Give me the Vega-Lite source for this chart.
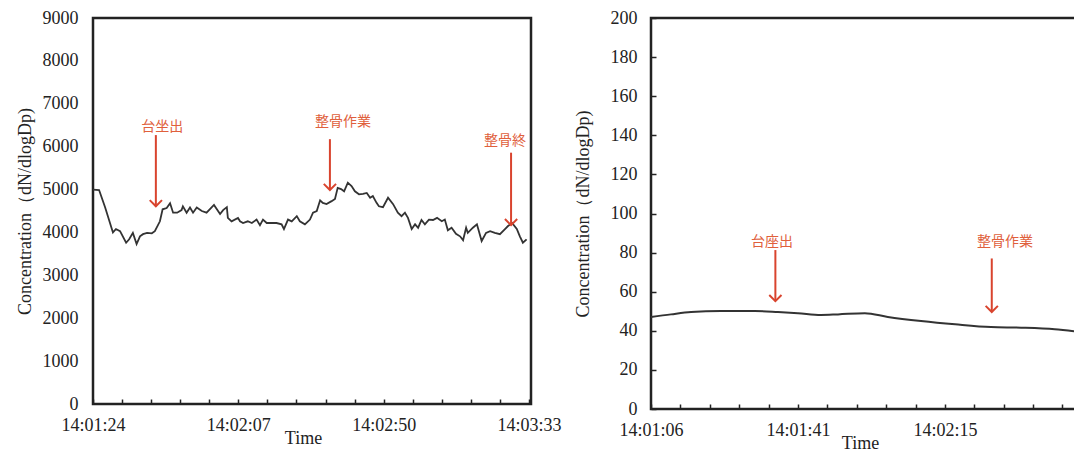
{
  "$schema": "https://vega.github.io/schema/vega-lite/v6.json",
  "background": "white",
  "padding": {"left": 14, "top": 7, "right": 0, "bottom": 0},
  "bounds": "flush",
  "spacing": 120,
  "datasets": {
    "left": [
      {"t": 84.0, "conc": 5000}, {"t": 85.8, "conc": 4990}, {"t": 87.6, "conc": 4580}, {"t": 89.9, "conc": 4000},
      {"t": 90.8, "conc": 4080}, {"t": 92.0, "conc": 4030}, {"t": 93.8, "conc": 3760}, {"t": 94.7, "conc": 3840},
      {"t": 95.8, "conc": 3990}, {"t": 96.9, "conc": 3730}, {"t": 97.9, "conc": 3910}, {"t": 98.8, "conc": 3960},
      {"t": 100.0, "conc": 3990}, {"t": 101.4, "conc": 3980}, {"t": 102.3, "conc": 4030}, {"t": 103.8, "conc": 4260},
      {"t": 104.6, "conc": 4540}, {"t": 105.8, "conc": 4570}, {"t": 106.8, "conc": 4680}, {"t": 107.7, "conc": 4460},
      {"t": 108.9, "conc": 4460}, {"t": 110.2, "conc": 4520}, {"t": 110.6, "conc": 4610}, {"t": 111.7, "conc": 4460},
      {"t": 112.7, "conc": 4580}, {"t": 113.6, "conc": 4460}, {"t": 114.7, "conc": 4580}, {"t": 116.2, "conc": 4500},
      {"t": 117.6, "conc": 4460}, {"t": 119.8, "conc": 4640}, {"t": 121.6, "conc": 4430}, {"t": 122.5, "conc": 4520},
      {"t": 123.6, "conc": 4590}, {"t": 123.9, "conc": 4340}, {"t": 125.0, "conc": 4260}, {"t": 126.9, "conc": 4340},
      {"t": 127.5, "conc": 4260}, {"t": 128.4, "conc": 4220}, {"t": 129.8, "conc": 4260}, {"t": 131.0, "conc": 4220},
      {"t": 132.4, "conc": 4300}, {"t": 133.4, "conc": 4170}, {"t": 134.3, "conc": 4300}, {"t": 135.4, "conc": 4220},
      {"t": 136.9, "conc": 4220}, {"t": 138.3, "conc": 4220}, {"t": 139.8, "conc": 4190}, {"t": 140.5, "conc": 4080},
      {"t": 141.7, "conc": 4300}, {"t": 142.8, "conc": 4260}, {"t": 144.3, "conc": 4380}, {"t": 145.2, "conc": 4260},
      {"t": 146.7, "conc": 4190}, {"t": 148.2, "conc": 4300}, {"t": 149.1, "conc": 4460}, {"t": 150.2, "conc": 4500},
      {"t": 151.2, "conc": 4750}, {"t": 152.0, "conc": 4690}, {"t": 153.1, "conc": 4660}, {"t": 154.6, "conc": 4730},
      {"t": 155.6, "conc": 4780}, {"t": 156.4, "conc": 5040}, {"t": 157.4, "conc": 5010}, {"t": 158.3, "conc": 4960},
      {"t": 159.4, "conc": 5160}, {"t": 160.5, "conc": 5080}, {"t": 161.5, "conc": 4960}, {"t": 162.7, "conc": 4890},
      {"t": 163.9, "conc": 4900}, {"t": 165.0, "conc": 4920}, {"t": 166.0, "conc": 4810}, {"t": 166.8, "conc": 4850},
      {"t": 167.9, "conc": 4690}, {"t": 168.6, "conc": 4610}, {"t": 169.8, "conc": 4590}, {"t": 171.3, "conc": 4810},
      {"t": 172.8, "conc": 4660}, {"t": 174.2, "conc": 4460}, {"t": 175.3, "conc": 4380}, {"t": 176.3, "conc": 4460},
      {"t": 177.2, "conc": 4340}, {"t": 178.3, "conc": 4080}, {"t": 179.3, "conc": 4190}, {"t": 180.2, "conc": 4110},
      {"t": 181.2, "conc": 4290}, {"t": 182.2, "conc": 4190}, {"t": 183.4, "conc": 4300}, {"t": 184.6, "conc": 4290},
      {"t": 185.8, "conc": 4340}, {"t": 187.2, "conc": 4260}, {"t": 188.1, "conc": 4300}, {"t": 189.0, "conc": 4050},
      {"t": 190.1, "conc": 4110}, {"t": 191.4, "conc": 3970}, {"t": 192.6, "conc": 3910}, {"t": 193.5, "conc": 3820},
      {"t": 194.4, "conc": 4110}, {"t": 194.9, "conc": 3990}, {"t": 196.4, "conc": 4110}, {"t": 197.6, "conc": 4190},
      {"t": 199.0, "conc": 3800}, {"t": 200.3, "conc": 3990}, {"t": 201.5, "conc": 4030}, {"t": 202.9, "conc": 3990},
      {"t": 204.4, "conc": 3960}, {"t": 205.9, "conc": 4080}, {"t": 206.8, "conc": 4150}, {"t": 208.0, "conc": 4220},
      {"t": 209.4, "conc": 4080}, {"t": 210.3, "conc": 3910}, {"t": 211.2, "conc": 3760}, {"t": 212.3, "conc": 3840}
    ],
    "right": [
      {"t": 66.0, "conc": 47.0}, {"t": 70.7, "conc": 48.4}, {"t": 75.4, "conc": 49.6}, {"t": 82.4, "conc": 50.1},
      {"t": 90.4, "conc": 50.1}, {"t": 95.8, "conc": 49.6}, {"t": 100.5, "conc": 49.0}, {"t": 105.9, "conc": 48.1},
      {"t": 109.9, "conc": 48.4}, {"t": 116.2, "conc": 49.0}, {"t": 121.6, "conc": 47.1}, {"t": 129.4, "conc": 45.0},
      {"t": 137.4, "conc": 43.3}, {"t": 145.8, "conc": 41.9}, {"t": 152.9, "conc": 41.6}, {"t": 160.8, "conc": 40.8},
      {"t": 164.8, "conc": 39.9}, {"t": 170.0, "conc": 39.4}
    ],
    "leftNotes": [
      {"t": 102.6, "top": 6270, "bottom": 4610, "tx": 104.5, "ty": 6450, "label": "台坐出"},
      {"t": 154.1, "top": 6175, "bottom": 4990, "tx": 158.0, "ty": 6580, "label": "整骨作業"},
      {"t": 207.7, "top": 5860, "bottom": 4170, "tx": 205.9, "ty": 6140, "label": "整骨終"}
    ],
    "rightNotes": [
      {"t": 95.2, "top": 81.3, "bottom": 55.2, "tx": 94.4, "ty": 85.5, "label": "台座出"},
      {"t": 146.0, "top": 77.0, "bottom": 49.6, "tx": 149.1, "ty": 85.5, "label": "整骨作業"}
    ]
  },
  "hconcat": [
    {
      "width": 438,
      "height": 386,
      "layer": [
        {
          "data": {"name": "left"},
          "mark": {"type": "line", "color": "#333333", "strokeWidth": 1.8},
          "encoding": {
            "x": {
              "field": "t", "type": "quantitative",
              "scale": {"domain": [84, 213.6], "nice": false, "zero": false},
              "axis": {
                "title": "Time", "titlePadding": -5, "titleX": 210, "tickCount": 100,
                "values": [84, 92.6, 101.2, 109.8, 118.4, 127, 135.6, 144.2, 152.8, 161.4, 170, 178.6, 187.2, 195.8, 204.4, 213],
                "labelExpr": "indexof([84,127,170,213], datum.value) >= 0 ? '14:' + (floor(round(datum.value)/60) < 10 ? '0' : '') + floor(round(datum.value)/60) + ':' + (round(datum.value) % 60 < 10 ? '0' : '') + (round(datum.value) % 60) : ''",
                "labelFlush": false, "labelOverlap": false,
                "domain": false, "offset": -5, "tickSize": 5, "labelPadding": 12
              }
            },
            "y": {
              "field": "conc", "type": "quantitative",
              "scale": {"domain": [0, 9000], "nice": false},
              "axis": {
                "title": "Concentration（dN/dlogDp)", "format": "d", "tickCount": 100,
                "values": [0, 1000, 2000, 3000, 4000, 5000, 6000, 7000, 8000, 9000],
                "labelOverlap": false, "domain": false,
                "ticks": false, "labelPadding": 15, "titlePadding": 8
              }
            }
          }
        },
        {
          "data": {"name": "leftNotes"},
          "mark": {"type": "rule", "color": "#d9442e", "strokeWidth": 2},
          "encoding": {
            "x": {"field": "t", "type": "quantitative"},
            "y": {"field": "top", "type": "quantitative"},
            "y2": {"field": "bottom"}
          }
        },
        {
          "data": {"name": "leftNotes"},
          "mark": {"type": "point", "shape": "M-1,-1L0,0L1,-1", "size": 150, "color": "#d9442e", "strokeWidth": 2, "filled": false, "opacity": 1},
          "encoding": {
            "x": {"field": "t", "type": "quantitative"},
            "y": {"field": "bottom", "type": "quantitative"}
          }
        },
        {
          "data": {"name": "leftNotes"},
          "mark": {"type": "text", "font": "Noto Sans CJK JP", "fontSize": 14, "color": "#e0603c", "baseline": "middle", "align": "center"},
          "encoding": {
            "x": {"field": "tx", "type": "quantitative"},
            "y": {"field": "ty", "type": "quantitative"},
            "text": {"field": "label"}
          }
        }
      ]
    },
    {
      "width": 443,
      "height": 391,
      "layer": [
        {
          "data": {"name": "right"},
          "mark": {"type": "line", "color": "#333333", "strokeWidth": 2, "interpolate": "monotone"},
          "encoding": {
            "x": {
              "field": "t", "type": "quantitative",
              "scale": {"domain": [66, 170], "nice": false, "zero": false},
              "axis": {
                "title": "Time", "titlePadding": -5, "titleX": 209, "tickCount": 100,
                "values": [66, 72.9, 79.8, 86.7, 93.6, 100.5, 107.4, 114.3, 121.2, 128.1, 135, 141.9, 148.8, 155.7, 162.6],
                "labelExpr": "indexof([66,100.5,135], datum.value) >= 0 ? '14:' + (floor(round(datum.value)/60) < 10 ? '0' : '') + floor(round(datum.value)/60) + ':' + (round(datum.value) % 60 < 10 ? '0' : '') + (round(datum.value) % 60) : ''",
                "labelFlush": false, "labelOverlap": false,
                "domain": false, "offset": -5, "tickSize": 5, "labelPadding": 12
              }
            },
            "y": {
              "field": "conc", "type": "quantitative",
              "scale": {"domain": [0, 200], "nice": false},
              "axis": {
                "title": "Concentration（dN/dlogDp)", "format": "d", "tickCount": 100,
                "values": [0, 20, 40, 60, 80, 100, 120, 140, 160, 180, 200],
                "labelOverlap": false, "domain": false,
                "offset": -5, "tickSize": 5, "labelPadding": 14, "titlePadding": 18
              }
            }
          }
        },
        {
          "data": {"name": "rightNotes"},
          "mark": {"type": "rule", "color": "#d9442e", "strokeWidth": 2},
          "encoding": {
            "x": {"field": "t", "type": "quantitative"},
            "y": {"field": "top", "type": "quantitative"},
            "y2": {"field": "bottom"}
          }
        },
        {
          "data": {"name": "rightNotes"},
          "mark": {"type": "point", "shape": "M-1,-1L0,0L1,-1", "size": 150, "color": "#d9442e", "strokeWidth": 2, "filled": false, "opacity": 1},
          "encoding": {
            "x": {"field": "t", "type": "quantitative"},
            "y": {"field": "bottom", "type": "quantitative"}
          }
        },
        {
          "data": {"name": "rightNotes"},
          "mark": {"type": "text", "font": "Noto Sans CJK JP", "fontSize": 14, "color": "#e0603c", "baseline": "middle", "align": "center"},
          "encoding": {
            "x": {"field": "tx", "type": "quantitative"},
            "y": {"field": "ty", "type": "quantitative"},
            "text": {"field": "label"}
          }
        }
      ]
    }
  ],
  "config": {
    "view": {"stroke": "#222222", "strokeWidth": 2.5},
    "axis": {
      "grid": false,
      "labelFont": "Liberation Serif", "titleFont": "Liberation Serif",
      "labelFontSize": 18, "titleFontSize": 18,
      "labelColor": "#222222", "titleColor": "#222222", "titleFontWeight": "normal",
      "domainColor": "#222222", "domainWidth": 2.5,
      "tickColor": "#222222", "tickWidth": 1.5
    }
  }
}
